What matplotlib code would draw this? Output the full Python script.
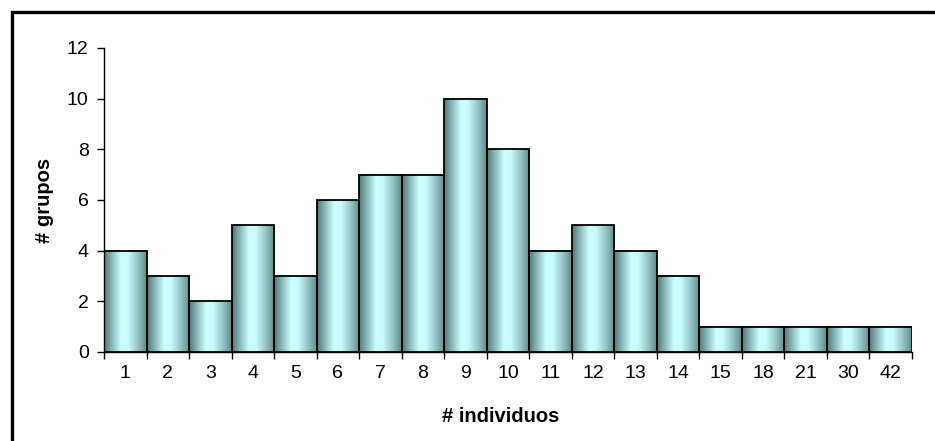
import numpy as np
import matplotlib
matplotlib.use("Agg")
import matplotlib.pyplot as plt
from matplotlib.colors import LinearSegmentedColormap
from matplotlib.patches import Rectangle

categories = ["1", "2", "3", "4", "5", "6", "7", "8", "9", "10", "11", "12", "13", "14", "15", "18", "21", "30", "42"]
values = [4, 3, 2, 5, 3, 6, 7, 7, 10, 8, 4, 5, 4, 3, 1, 1, 1, 1, 1]
yticks = [0, 2, 4, 6, 8, 10, 12]

plt.rcParams['font.family'] = ['Liberation Sans', 'DejaVu Sans']

fig = plt.figure(figsize=(9.35, 4.41), dpi=100)
ax = fig.add_axes([104/935, 1-352/441, (912-104)/935, (352-48)/441])

# figure border
fig.patches.append(Rectangle((11.5/935, -0.1), 2.0, (441-11.5)/441 + 0.1,
                             transform=fig.transFigure, fill=False,
                             edgecolor='black', linewidth=2.4, zorder=10))

x = np.arange(len(categories))
bars = ax.bar(x, values, width=1.0, facecolor='none', edgecolor='black', linewidth=1.3, zorder=3)

cmap = LinearSegmentedColormap.from_list("cyangrad", [
    (0.0, "#507878"), (0.18, "#8ab6b6"), (0.40, "#ccffff"), (0.56, "#c8fbfb"),
    (0.80, "#94c2c2"), (1.0, "#5e8888")])
grad = np.linspace(0, 1, 256).reshape(1, -1)
for b in bars:
    x0, y0 = b.get_x(), b.get_y()
    w, h = b.get_width(), b.get_height()
    ax.imshow(grad, cmap=cmap, aspect='auto', extent=(x0, x0 + w, y0, y0 + h),
              zorder=2, interpolation='bilinear')

ax.set_xlim(-0.5, len(categories) - 0.5)
ax.set_ylim(0, 12)
ax.set_yticks(yticks)
ax.set_yticklabels([str(t) for t in yticks], fontsize=14)
ax.set_xticks(x)
ax.set_xticklabels(categories, fontsize=14)
ax.set_xticks(np.arange(len(categories) + 1) - 0.5, minor=True)
ax.tick_params(axis='x', which='major', length=0, pad=9)
ax.tick_params(axis='x', which='minor', length=5, width=1)
ax.tick_params(axis='y', length=5, width=1, pad=6)

for s in ['top', 'right']:
    ax.spines[s].set_visible(False)
ax.spines['left'].set_linewidth(1)
ax.spines['bottom'].set_linewidth(1)

ax.set_xlabel("# individuos", fontsize=14.5, fontweight='bold')
ax.set_ylabel("# grupos", fontsize=14.5, fontweight='bold')
ax.xaxis.set_label_coords((501 - 104) / (912 - 104), -(416 - 352) / (352 - 48))
ax.xaxis.label.set_verticalalignment('center')
ax.yaxis.set_label_coords(-(104 - 44) / (912 - 104), 0.5)
ax.yaxis.label.set_verticalalignment('center')

fig.savefig("out.png", dpi=100)
